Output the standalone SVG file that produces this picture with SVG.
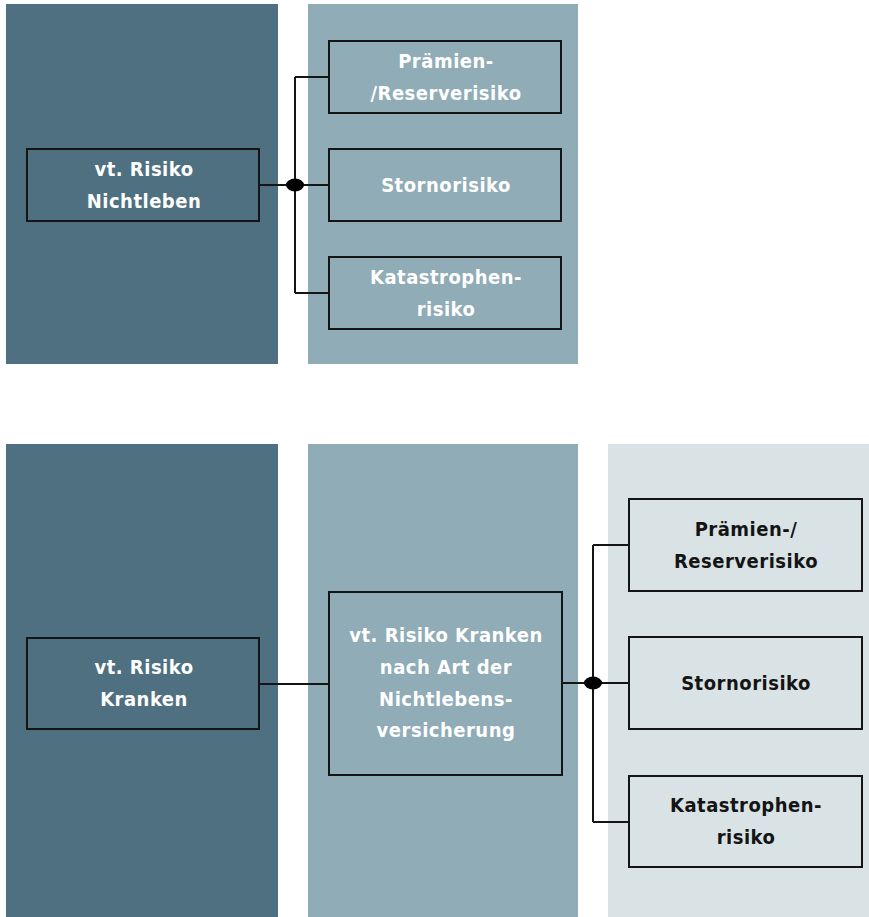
<svg xmlns="http://www.w3.org/2000/svg" width="869" height="917" viewBox="0 0 869 917">
<style>
.p1{fill:#4e7080}
.p2{fill:#8facb7}
.p3{fill:#d9e3e5}
.box{fill:none;stroke:#151515;stroke-width:2}
.t{font-family:"DejaVu Sans Condensed","DejaVu Sans",sans-serif;font-stretch:condensed;font-weight:bold;font-size:20px;letter-spacing:0.5px;text-anchor:middle}
.w{fill:#ffffff}
.k{fill:#141414}
.ln{fill:none;stroke:#151515;stroke-width:2}
.dot{fill:#000}
</style>
<rect width="869" height="917" fill="#ffffff"/>
<g id="panels">
<rect class="p1" x="6" y="4" width="272" height="360"/>
<rect class="p2" x="308" y="4" width="270" height="360"/>
<rect class="p1" x="6" y="444" width="272" height="473"/>
<rect class="p2" x="308" y="444" width="270" height="473"/>
<rect class="p3" x="608" y="444" width="261" height="473"/>
</g>
<g id="connectors">
<path class="ln" d="M260 185H329M295 77V293M295 77H329M295 293H329"/>
<ellipse class="dot" cx="295" cy="185" rx="9" ry="6.5"/>
<path class="ln" d="M260 684H329M562 683H629M593 545V822M593 545H629M593 822H629"/>
<ellipse class="dot" cx="593" cy="683" rx="9" ry="6.5"/>
</g>
<g id="n1">
<rect class="box" x="27" y="149" width="232" height="72"/>
<text class="t w" x="144" y="176">vt. Risiko</text>
<text class="t w" x="144" y="208">Nichtleben</text>
</g>
<g id="n2">
<rect class="box" x="329" y="41" width="232" height="72"/>
<text class="t w" x="446" y="68">Prämien-</text>
<text class="t w" x="446" y="100">/Reserverisiko</text>
</g>
<g id="n3">
<rect class="box" x="329" y="149" width="232" height="72"/>
<text class="t w" x="446" y="192">Stornorisiko</text>
</g>
<g id="n4">
<rect class="box" x="329" y="257" width="232" height="72"/>
<text class="t w" x="446" y="284">Katastrophen-</text>
<text class="t w" x="446" y="316">risiko</text>
</g>
<g id="n5">
<rect class="box" x="27" y="638" width="232" height="91"/>
<text class="t w" x="144" y="674">vt. Risiko</text>
<text class="t w" x="144" y="706">Kranken</text>
</g>
<g id="n6">
<rect class="box" x="329" y="592" width="233" height="183"/>
<text class="t w" x="446" y="642">vt. Risiko Kranken</text>
<text class="t w" x="446" y="674">nach Art der</text>
<text class="t w" x="446" y="706">Nichtlebens-</text>
<text class="t w" x="446" y="737">versicherung</text>
</g>
<g id="n7">
<rect class="box" x="629" y="499" width="233" height="92"/>
<text class="t k" x="746" y="536">Prämien-/</text>
<text class="t k" x="746" y="568">Reserverisiko</text>
</g>
<g id="n8">
<rect class="box" x="629" y="637" width="233" height="92"/>
<text class="t k" x="746" y="690">Stornorisiko</text>
</g>
<g id="n9">
<rect class="box" x="629" y="776" width="233" height="91"/>
<text class="t k" x="746" y="812">Katastrophen-</text>
<text class="t k" x="746" y="844">risiko</text>
</g>
</svg>
